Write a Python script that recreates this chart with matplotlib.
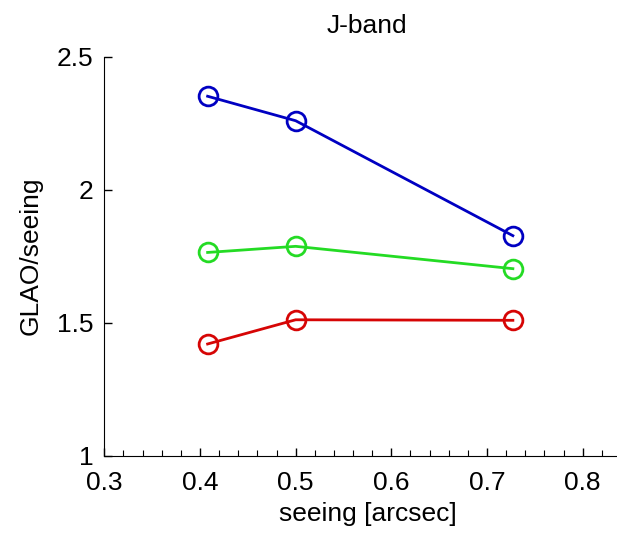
import numpy as np
import matplotlib
matplotlib.use("Agg")
import matplotlib.pyplot as plt
from matplotlib.ticker import MultipleLocator, FormatStrFormatter

plt.rcParams['font.family'] = ['Liberation Sans', 'DejaVu Sans']

# seeing values (arcsec)
seeing = [0.408, 0.500, 0.727]

# GLAO/seeing ratio for the three curves
blue_vals = [2.351, 2.259, 1.827]
green_vals = [1.764, 1.787, 1.703]
red_vals = [1.420, 1.511, 1.509]

colors = {'blue': (0.0, 0.0, 0.76), 'green': (0.14, 0.86, 0.14), 'red': (0.84, 0.02, 0.02)}

fig = plt.figure(figsize=(6.17, 5.37), dpi=100)
ax = fig.add_axes([0.169, 0.1513, 1.022 - 0.169, 0.7433])

for vals, c in [(blue_vals, colors['blue']), (green_vals, colors['green']), (red_vals, colors['red'])]:
    ax.plot(seeing, vals, '-o', color=c, lw=2, markersize=13.5,
            markerfacecolor='none', markeredgewidth=2)

ax.set_xlim(0.3, 0.85)
ax.set_ylim(1, 2.5)
ax.xaxis.set_major_locator(MultipleLocator(0.1))
ax.xaxis.set_minor_locator(MultipleLocator(0.02))
ax.yaxis.set_major_locator(MultipleLocator(0.5))
ax.xaxis.set_major_formatter(FormatStrFormatter('%g'))
ax.yaxis.set_major_formatter(FormatStrFormatter('%g'))

ax.spines['top'].set_visible(False)
ax.spines['right'].set_visible(False)
ax.tick_params(direction='in', which='major', length=6, width=1, labelsize=19)
ax.tick_params(direction='in', which='minor', length=4, width=0.8)
ax.tick_params(axis='x', pad=11)
ax.tick_params(axis='y', pad=8)

ax.set_title('J-band', fontsize=19, pad=17)
ax.set_xlabel('seeing [arcsec]', fontsize=19, labelpad=5)
ax.set_ylabel('GLAO/seeing', fontsize=19, labelpad=10)

fig.savefig('out.png', dpi=100)
